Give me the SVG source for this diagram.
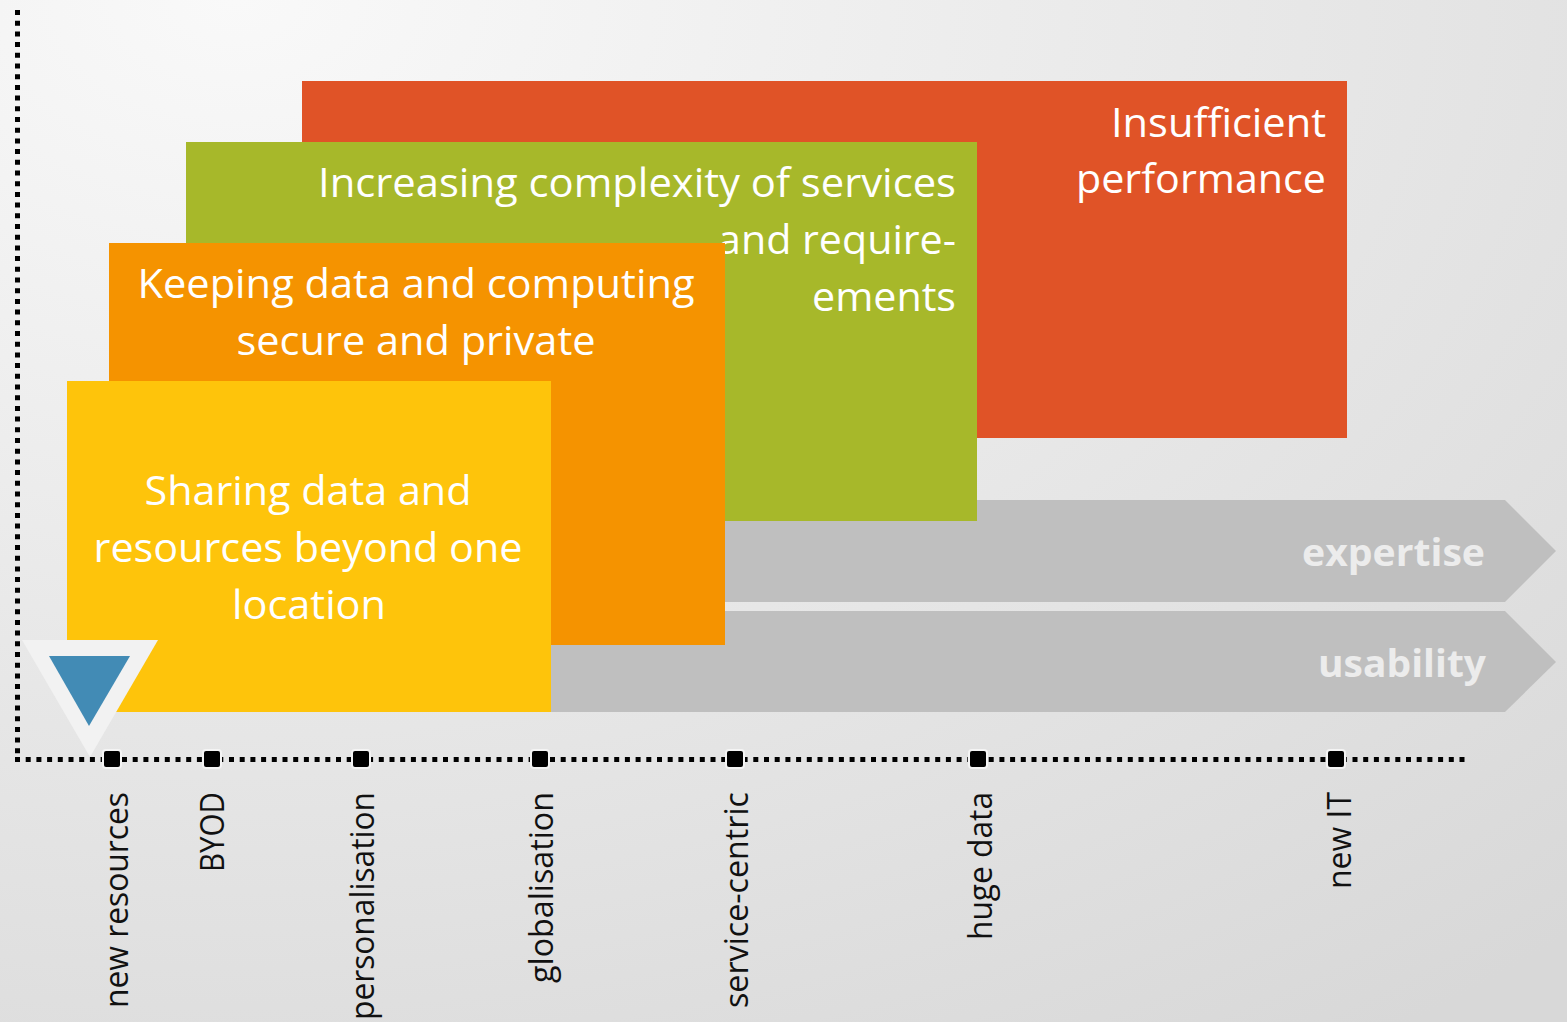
<svg xmlns="http://www.w3.org/2000/svg" width="1567" height="1022" viewBox="0 0 1567 1022">
  <defs>
    <radialGradient id="bg" cx="0.15" cy="0" r="1.25" gradientUnits="objectBoundingBox">
      <stop offset="0" stop-color="#f9f9f9"/>
      <stop offset="1" stop-color="#d8d8d8"/>
    </radialGradient>
    <style>
      .card { font-family: "Open Sans", "Liberation Sans", sans-serif; font-size: 40px; fill: #ffffff; }
      .band { font-family: "Open Sans", "Liberation Sans", sans-serif; font-size: 38px; font-weight: bold; fill: #ececec; }
      .lbl { font-family: "Open Sans", "Liberation Sans", sans-serif; font-size: 33px; fill: #111111; }
      .dots { stroke: #000000; stroke-width: 5; stroke-dasharray: 5 5.7; fill: none; }
      .tick { fill: #000000; stroke: #f4f4f4; stroke-width: 2; }
    </style>
  </defs>

  <rect x="0" y="0" width="1567" height="1022" fill="url(#bg)"/>

  <g id="band-expertise">
    <polygon points="500,500 1505,500 1556,551 1505,602 500,602" fill="#bfbfbf"/>
    <text class="band" x="1485" y="566" text-anchor="end" textLength="183" lengthAdjust="spacingAndGlyphs">expertise</text>
  </g>
  <g id="band-usability">
    <polygon points="500,611 1505,611 1556,662 1505,712 500,712" fill="#bfbfbf"/>
    <text class="band" x="1486" y="677" text-anchor="end" textLength="168" lengthAdjust="spacingAndGlyphs">usability</text>
  </g>

  <g id="card-performance">
    <rect x="302" y="81" width="1045" height="357" fill="#e05327"/>
    <text class="card" x="1326" y="137" text-anchor="end" textLength="215" lengthAdjust="spacingAndGlyphs">Insufficient</text>
    <text class="card" x="1326" y="193" text-anchor="end" textLength="250" lengthAdjust="spacingAndGlyphs">performance</text>
  </g>

  <g id="card-complexity">
    <rect x="186" y="142" width="791" height="379" fill="#a7b82a"/>
    <text class="card" x="956" y="197" text-anchor="end" textLength="638" lengthAdjust="spacingAndGlyphs">Increasing complexity of services</text>
    <text class="card" x="956" y="254" text-anchor="end" textLength="238" lengthAdjust="spacingAndGlyphs">and require-</text>
    <text class="card" x="956" y="311" text-anchor="end" textLength="144" lengthAdjust="spacingAndGlyphs">ements</text>
  </g>

  <g id="card-secure">
    <rect x="109" y="243" width="616" height="402" fill="#f59300"/>
    <text class="card" x="416" y="298" text-anchor="middle" textLength="557" lengthAdjust="spacingAndGlyphs">Keeping data and computing</text>
    <text class="card" x="416" y="355" text-anchor="middle" textLength="359" lengthAdjust="spacingAndGlyphs">secure and private</text>
  </g>

  <g id="card-sharing">
    <rect x="67" y="381" width="484" height="331" fill="#fec40b"/>
    <text class="card" x="308" y="505" text-anchor="middle" textLength="327" lengthAdjust="spacingAndGlyphs">Sharing data and</text>
    <text class="card" x="308" y="562" text-anchor="middle" textLength="429" lengthAdjust="spacingAndGlyphs">resources beyond one</text>
    <text class="card" x="309" y="619" text-anchor="middle" textLength="154" lengthAdjust="spacingAndGlyphs">location</text>
  </g>

  <g id="marker-now">
    <polygon points="22,640 158,640 90,757" fill="#f2f2f2"/>
    <polygon points="49,656 130,656 89,726" fill="#428bb5"/>
  </g>

  <g id="connectors">
    <line class="dots" x1="17.5" y1="10" x2="17.5" y2="757"/>
    <line class="dots" x1="15" y1="759.5" x2="1465" y2="759.5"/>
  </g>

  <g id="tick-new-resources">
    <rect class="tick" x="103" y="750" width="18" height="18" rx="3"/>
    <text class="lbl" transform="translate(128,792) rotate(-90)" text-anchor="end" textLength="216" lengthAdjust="spacingAndGlyphs">new resources</text>
  </g>
  <g id="tick-byod">
    <rect class="tick" x="203" y="750" width="18" height="18" rx="3"/>
    <text class="lbl" transform="translate(224,792) rotate(-90)" text-anchor="end" textLength="80" lengthAdjust="spacingAndGlyphs">BYOD</text>
  </g>
  <g id="tick-personalisation">
    <rect class="tick" x="352" y="750" width="18" height="18" rx="3"/>
    <text class="lbl" transform="translate(374,792) rotate(-90)" text-anchor="end" textLength="228" lengthAdjust="spacingAndGlyphs">personalisation</text>
  </g>
  <g id="tick-globalisation">
    <rect class="tick" x="531" y="750" width="18" height="18" rx="3"/>
    <text class="lbl" transform="translate(553,792) rotate(-90)" text-anchor="end" textLength="191" lengthAdjust="spacingAndGlyphs">globalisation</text>
  </g>
  <g id="tick-service-centric">
    <rect class="tick" x="726" y="750" width="18" height="18" rx="3"/>
    <text class="lbl" transform="translate(748,792) rotate(-90)" text-anchor="end" textLength="216" lengthAdjust="spacingAndGlyphs">service-centric</text>
  </g>
  <g id="tick-huge-data">
    <rect class="tick" x="969" y="750" width="18" height="18" rx="3"/>
    <text class="lbl" transform="translate(992,792) rotate(-90)" text-anchor="end" textLength="148" lengthAdjust="spacingAndGlyphs">huge data</text>
  </g>
  <g id="tick-new-it">
    <rect class="tick" x="1327" y="750" width="18" height="18" rx="3"/>
    <text class="lbl" transform="translate(1351,792) rotate(-90)" text-anchor="end" textLength="97" lengthAdjust="spacingAndGlyphs">new IT</text>
  </g>
</svg>
